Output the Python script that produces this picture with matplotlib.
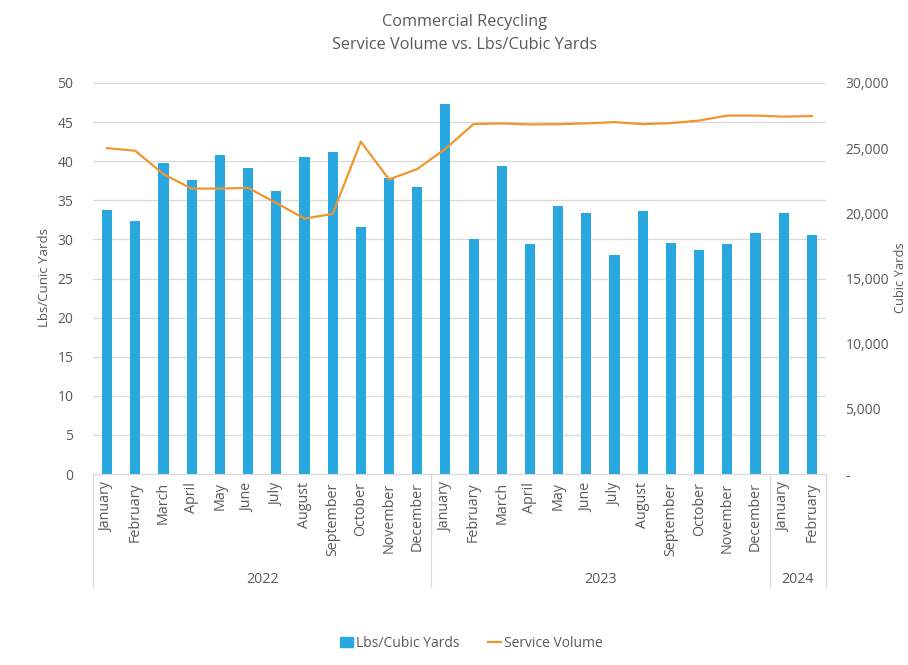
import numpy as np
from matplotlib import pyplot as plt
from matplotlib.ticker import FuncFormatter, MultipleLocator
from matplotlib.transforms import blended_transform_factory
from matplotlib.patches import Patch
from matplotlib.lines import Line2D

plt.rcParams['font.family'] = ['Open Sans', 'DejaVu Sans']

months = ['January', 'February', 'March', 'April', 'May', 'June', 'July',
          'August', 'September', 'October', 'November', 'December',
          'January', 'February', 'March', 'April', 'May', 'June', 'July',
          'August', 'September', 'October', 'November', 'December',
          'January', 'February']
years = ['2022', '2023', '2024']
year_sizes = [12, 12, 2]

lbs_per_yard = [33.7, 32.4, 39.8, 37.6, 40.8, 39.1, 36.2, 40.5, 41.2, 31.6, 37.9, 36.7,
                47.3, 30.1, 39.4, 29.4, 34.3, 33.4, 28.0, 33.6, 29.5, 28.6, 29.4, 30.8,
                33.4, 30.5]
service_volume = [25000, 24800, 23000, 21900, 21900, 21950, 20800, 19600, 19950, 25500, 22600, 23400,
                  24950, 26850, 26900, 26820, 26840, 26900, 27000, 26840, 26920, 27120, 27500, 27500,
                  27420, 27460]

BAR_COLOR = '#29A8E0'
LINE_COLOR = '#F0962E'
GRID_COLOR = '#D9D9D9'
TEXT_COLOR = '#595959'

fig = plt.figure(figsize=(9.08, 6.65), dpi=100)
ax = fig.add_axes([0.1024, 0.2872, 0.8073, 0.588])
ax2 = ax.twinx()

x = np.arange(len(months))
ax.bar(x, lbs_per_yard, width=0.36, color=BAR_COLOR, zorder=2)
ax2.plot(x, service_volume, color=LINE_COLOR, linewidth=1.6, zorder=3)

ax.set_xlim(-0.5, len(months) - 0.5)
ax.set_ylim(0, 50)
ax.yaxis.set_major_locator(MultipleLocator(5))
ax2.set_ylim(0, 30000)
ax2.yaxis.set_major_locator(MultipleLocator(5000))
ax2.yaxis.set_major_formatter(FuncFormatter(lambda v, p: '-' if v == 0 else '{:,.0f}'.format(v)))

ax.grid(axis='y', color=GRID_COLOR, linewidth=0.9, zorder=0)
ax.set_axisbelow(True)
for a in (ax, ax2):
    for s in a.spines.values():
        s.set_visible(False)
    a.tick_params(length=0, colors=TEXT_COLOR, labelsize=10)
ax.spines['bottom'].set_visible(True)
ax.spines['bottom'].set_color(GRID_COLOR)
ax.tick_params(axis='y', pad=14)
ax2.tick_params(axis='y', pad=14)

ax.set_xticks(x)
ax.set_xticklabels(months, rotation=90, fontsize=10.3, color=TEXT_COLOR)
ax.tick_params(axis='x', pad=6)

# axis titles
fig.text(45 / 908, 0.582, 'Lbs/Cunic Yards', rotation=90, ha='center', va='center',
         fontsize=9.5, color=TEXT_COLOR)
fig.text(900 / 908, 0.582, 'Cubic Yards', rotation=90, ha='center', va='center',
         fontsize=9.3, color=TEXT_COLOR)

# year grouping under the month labels
tr = blended_transform_factory(ax.transData, ax.transAxes)
edges = np.concatenate([[0], np.cumsum(year_sizes)]) - 0.5
for e in edges:
    ax.plot([e, e], [0, -0.29], transform=tr, color=GRID_COLOR, linewidth=0.9, clip_on=False)
for yr, lo, hi in zip(years, edges[:-1], edges[1:]):
    ax.text((lo + hi) / 2, -0.27, yr, transform=tr, ha='center', va='center',
            fontsize=10.3, color=TEXT_COLOR)

fig.text(0.512, 0.967, 'Commercial Recycling', ha='center', va='center', fontsize=11.7, color=TEXT_COLOR)
fig.text(0.512, 0.932, 'Service Volume vs. Lbs/Cubic Yards', ha='center', va='center', fontsize=11.7,
         color=TEXT_COLOR)

handles = [Patch(color=BAR_COLOR, label='Lbs/Cubic Yards'),
           Line2D([0], [0], color=LINE_COLOR, linewidth=1.6, label='Service Volume')]
leg = fig.legend(handles=handles, loc='center', bbox_to_anchor=(0.519, 0.032), ncol=2, frameon=False,
                 fontsize=10, handlelength=1.0, handletextpad=0.2, columnspacing=2.0)
for t in leg.get_texts():
    t.set_color(TEXT_COLOR)

fig.savefig('out.png', dpi=100)
